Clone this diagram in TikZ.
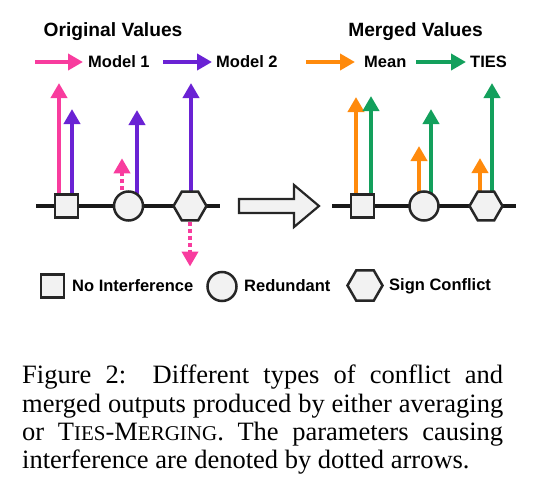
\documentclass[tikz,border=0pt]{standalone}
\usepackage{fontspec}
\setmainfont{Liberation Serif}
\setsansfont{Liberation Sans}
\usetikzlibrary{arrows.meta, shapes.geometric, backgrounds}
\definecolor{pinkc}{HTML}{F83C9E}
\definecolor{purplec}{HTML}{6A22D4}
\definecolor{orangec}{HTML}{FF8A0C}
\definecolor{greenc}{HTML}{13A05C}
\tikzset{
  vec/.style={line width=4.5pt, -{Triangle[length=15pt,width=16pt]}},
  dotvec/.style={vec, dash pattern=on 4pt off 3pt}
}
\tikzset{
  cell/.style={draw=black!85, line width=2.5pt, fill=black!5, inner sep=0pt},
  sqcell/.style={cell, rectangle, minimum size=23pt},
  circcell/.style={cell, circle, minimum size=29pt},
  hexcell/.style={cell, regular polygon, regular polygon sides=6, minimum size=33pt},
  axisline/.style={line width=4pt, black!90}
}
\tikzset{
  titletext/.style={font=\sffamily\bfseries\fontsize{19.2}{22}\selectfont, inner sep=0pt},
  legtext/.style={font=\sffamily\bfseries\fontsize{16.5}{19}\selectfont, inner sep=0pt, anchor=west}
}
\newcommand{\fsc}[1]{{\fontsize{21}{28}\selectfont #1}}

\begin{document}
\begin{tikzpicture}[x=1pt, y=-1pt]
      \useasboundingbox (0,0) rectangle (546,490);
      % titles and colour key
      \node[titletext, anchor=base] (orig) at (113,36) {Original Values};
      \node[titletext, anchor=base] (merged) at (415.5,36) {Merged Values};
      \node[legtext] (m1) at (88,62) {Model 1};
      \node[legtext] (m2) at (216,62) {Model 2};
      \node[legtext] (mean) at (364,62) {Mean};
      \node[legtext] (ties) at (470,62) {TIES};
      \draw[vec, pinkc] ([xshift=-53pt]m1.west) -- ([xshift=-5pt]m1.west);
      \draw[vec, purplec] ([xshift=-53pt]m2.west) -- ([xshift=-4pt]m2.west);
      \draw[vec, orangec] ([xshift=-58pt]mean.west) -- ([xshift=-9pt]mean.west);
      \draw[vec, greenc] ([xshift=-54pt]ties.west) -- ([xshift=-4pt]ties.west);
      % original values
      \node[sqcell] (sq1) at (66.5,206) {};
      \node[circcell] (circ1) at (128.5,206) {};
      \node[hexcell] (hex1) at (190,206) {};
      % merged values
      \node[sqcell] (sq2) at (362.5,206) {};
      \node[circcell] (circ2) at (424,206) {};
      \node[hexcell] (hex2) at (486,206) {};
      \begin{scope}[on background layer]
        \draw[axisline] ([xshift=-30.5pt]sq1.center) -- ([xshift=30pt]hex1.center);
        \draw[axisline] ([xshift=-30.5pt]sq2.center) -- ([xshift=30pt]hex2.center);
        \draw[vec, pinkc] ([xshift=-7.5pt]sq1.center) -- ++(0,-123);
        \draw[vec, purplec] ([xshift=5.5pt]sq1.center) -- ++(0,-97);
        \draw[vec, purplec] ([xshift=8.5pt]circ1.center) -- ++(0,-96);
        \draw[vec, purplec] ([xshift=1pt]hex1.center) -- ++(0,-123);
        \draw[vec, orangec] ([xshift=-6.5pt]sq2.center) -- ++(0,-109);
        \draw[vec, greenc] ([xshift=8.5pt]sq2.center) -- ++(0,-110);
        \draw[vec, orangec] ([xshift=-5pt]circ2.center) -- ++(0,-60);
        \draw[vec, greenc] ([xshift=7pt]circ2.center) -- ++(0,-97);
        \draw[vec, orangec] ([xshift=-6pt]hex2.center) -- ++(0,-48);
        \draw[vec, greenc] ([xshift=6pt]hex2.center) -- ++(0,-123);
      \end{scope}
      % interfering parameters
      \draw[dotvec, pinkc] ([xshift=-6.5pt]circ1.north) -- ++(0,-32);
      \draw[dotvec, pinkc] (hex1.south) -- ++(0,45);
      % merge arrow
      \draw[line width=2.2pt, draw=black!85, fill=black!5, line join=miter]
        (239,199) -- (294,199) -- (294,185) -- (319,206) -- (294,227) -- (294,213) -- (239,213) -- cycle;
      % shape key
      \node[sqcell] (ksq) at (52.5,286) {};
      \node[legtext] (knone) at (72,286) {No Interference};
      \node[circcell] (kcirc) at (222,286.5) {};
      \node[legtext] (kred) at (244,286) {Redundant};
      \node[hexcell, minimum size=35pt] (khex) at (365,285.5) {};
      \node[legtext] (ksign) at (389,286) {Sign Conflict};
      % caption
      \begin{scope}[every node/.style={anchor=base west, inner sep=0pt, font=\fontsize{26.5}{28.5}\selectfont}]
        \node (cap1) at (22,383) {\makebox[481pt][s]{Figure 2:\quad Different types of conflict and}};
        \node (cap2) at (22,412) {\makebox[481pt][s]{merged outputs produced by either averaging}};
        \node (cap3) at (22,440) {\makebox[481pt][s]{or T\fsc{IES}-M\fsc{ERGING}. The parameters causing}};
        \node (cap4) at (22,468) {interference are denoted by dotted arrows.};
      \end{scope}
    \end{tikzpicture}
\end{document}
